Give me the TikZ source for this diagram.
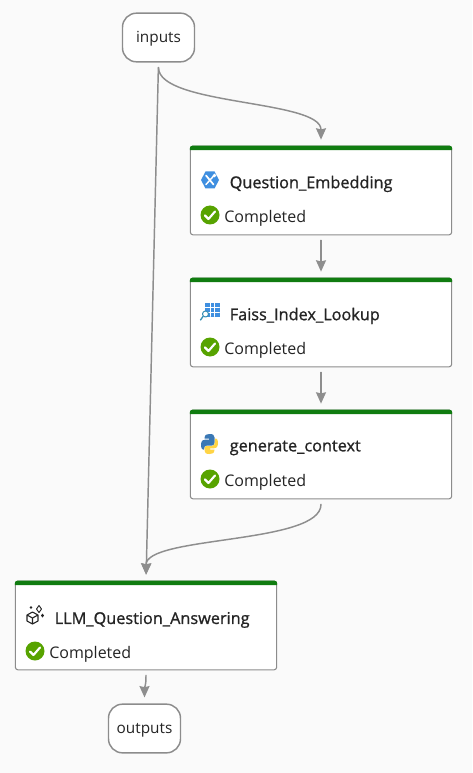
\documentclass[tikz,border=0pt]{standalone}
\usepackage{fontspec}
\setmainfont{Open Sans}
\usetikzlibrary{arrows.meta}
\definecolor{pagebg}{HTML}{FAFAFA}
\definecolor{edgegray}{HTML}{8E8E8E}
\definecolor{boxgray}{HTML}{8C8C8C}
\definecolor{bargreen}{HTML}{107C10}
\definecolor{okgreen}{HTML}{57A300}
\definecolor{txtdark}{HTML}{242424}
\definecolor{azure}{HTML}{3F8FE0}
\definecolor{pyblue}{HTML}{3A78B5}
\definecolor{pyyellow}{HTML}{FFD445}
\newcommand{\okicon}[2]{%
	\fill[okgreen] (#1,#2) circle (9.5);
	\draw[white,line width=1.6pt] (#1-5,#2+.5)--(#1-1.5,#2+4)--(#1+5,#2-3.5);
}
\begin{document}
\begin{tikzpicture}[x=.75pt,y=-.75pt,line join=round,line cap=round,>={Stealth[length=8.5pt,width=7.5pt,inset=.8pt]}]
	\tikzset{port/.style={draw=boxgray,line width=1.1pt,fill=white,rounded corners=10.5pt,minimum width=54pt,minimum height=36.5pt,inner sep=0pt,font=\fontsize{11.5}{13}\selectfont,text=txtdark,text height=10.5pt,text depth=2.8pt}}
	\tikzset{card/.style={draw=boxgray,line width=.8pt,fill=white,rounded corners=2pt,minimum width=196pt,minimum height=66.5pt,inner sep=0pt}}
	\tikzset{title/.style={anchor=west,inner sep=0pt,font=\fontsize{12.2}{14}\selectfont,text=txtdark,text depth=0pt}}
	\tikzset{state/.style={anchor=west,inner sep=0pt,font=\fontsize{12}{14}\selectfont,text=txtdark}}
	\tikzset{flow/.style={->,draw=edgegray,line width=1.1pt,shorten <=3.75pt,shorten >=4.5pt}}
	\useasboundingbox (0,0) rectangle (472,773);
	\fill[pagebg] (0,0) rectangle (472,773);
	% ports
	\node[port] (inputs) at (158.5,37.5) {inputs};
	\node[port] (outputs) at (144.5,728.5) {outputs};
	% cards
	\node[card] (embed) at (321,190.5) {};
	\node[card] (faiss) at (321,322.5) {};
	\node[card] (context) at (321,454.5) {};
	\node[card] (answer) at (146,625.5) {};
	\foreach \b in {embed,faiss,context,answer}
		\fill[bargreen] ([yshift=-3.4pt]\b.north west) [rounded corners=2pt] -- (\b.north west) -- (\b.north east) [sharp corners] -- ([yshift=-3.4pt]\b.north east) -- cycle;
	% titles
	\node[title] (embedName) at (229.5,182) {\addfontfeature{FakeBold=1}Question\_Embedding};
	\node[title] (faissName) at (229.5,314) {\addfontfeature{FakeBold=1}Faiss\_Index\_Lookup};
	\node[title] (contextName) at (229.5,446) {\addfontfeature{FakeBold=1}generate\_context};
	\node[title] (answerName) at (54.5,618) {\addfontfeature{FakeBold=1}LLM\_Question\_Answering};
	% status
	\okicon{210}{215}
	\okicon{210}{347}
	\okicon{210}{479}
	\okicon{35}{651}
	\node[state] (embedState) at (224,218.5) {Completed};
	\node[state] (faissState) at (224,350.5) {Completed};
	\node[state] (contextState) at (224,482.5) {Completed};
	\node[state] (answerState) at (49,654.5) {Completed};
	% wrench icon
	\fill[azure] (201,180)--(205.5,171.5)--(214.5,171.5)--(219,180)--(214.5,188.5)--(205.5,188.5)--cycle;
	\draw[white,line width=1.3pt] (206,175.5)--(213.5,184.5);
	\draw[white,line width=1.1pt] (214.5,175)--(206,184.5);
	\fill[white] (214.5,175.5) circle (1.8);
	% grid icon
	\fill[azure] (205,303) rectangle (219.5,316.5);
	\draw[white,line width=.45pt] (209.8,303)--(209.8,316.5) (214.6,303)--(214.6,316.5) (205,307.5)--(219.5,307.5) (205,312)--(219.5,312);
	\draw[cyan!70!black,line width=.8pt,fill=white] (205.5,314) circle (3);
	\draw[cyan!70!black,line width=1pt] (203,316.5)--(200.5,320);
	% python icon
	\fill[pyblue] (201,445) .. controls (201,440) and (203,439.5) .. (209,439.5) -- (209,438.5) -- (204.5,438.5) .. controls (204.5,434.5) and (207,434) .. (209.5,434) .. controls (213,434) and (214.5,435) .. (214.5,437.5) -- (214.5,443) .. controls (214.5,445) and (213,445.5) .. (212,445.5) -- (207,445.5) .. controls (205,445.5) and (204,447) .. (204,449.5) -- (203,449.5) .. controls (201.5,449.5) and (201,447.5) .. (201,445) -- cycle;
	\fill[pyyellow] (218,443) .. controls (218,448) and (216,448.5) .. (210,448.5) -- (210,449.5) -- (214.5,449.5) .. controls (214.5,453.5) and (212,454) .. (209.5,454) .. controls (206,454) and (204.5,453) .. (204.5,450.5) -- (204.5,447.5) .. controls (204.5,446.5) and (206,446) .. (207,446) -- (212,446) .. controls (214,446) and (215,444.5) .. (215,438.5) -- (216,438.5) .. controls (217.5,438.5) and (218,440.5) .. (218,443) -- cycle;
	% cube icon
	\draw[txtdark,line width=.8pt] (32.5,612)--(38,615)--(38,621)--(32.5,624)--(27,621)--(27,615)--cycle (27,615)--(32.5,618)--(38,615) (32.5,618)--(32.5,624);
	\draw[txtdark,line width=.7pt] (39,605.5)--(41.5,609)--(39,612.5)--(36.5,609)--cycle;
	\fill[txtdark] (42.5,613.5)--(44,615.5)--(42.5,617.5)--(41,615.5)--cycle;
	\fill[txtdark] (31,606)--(32.3,607.5)--(31,609)--(29.7,607.5)--cycle;
	% connectors
	\draw[flow] (inputs.south) -- (answer.north);
	\draw[flow] (inputs.south) .. controls +(0,43) and +(0,-46) .. (embed.north);
	\draw[flow] (embed.south) -- (faiss.north);
	\draw[flow] (faiss.south) -- (context.north);
	\draw[flow] (context.south) .. controls +(0,45) and +(0,-45) .. (answer.north);
	\draw[flow] (answer.south) .. controls +(0,17) and +(0,-17) .. (outputs.north);
\end{tikzpicture}
\end{document}
